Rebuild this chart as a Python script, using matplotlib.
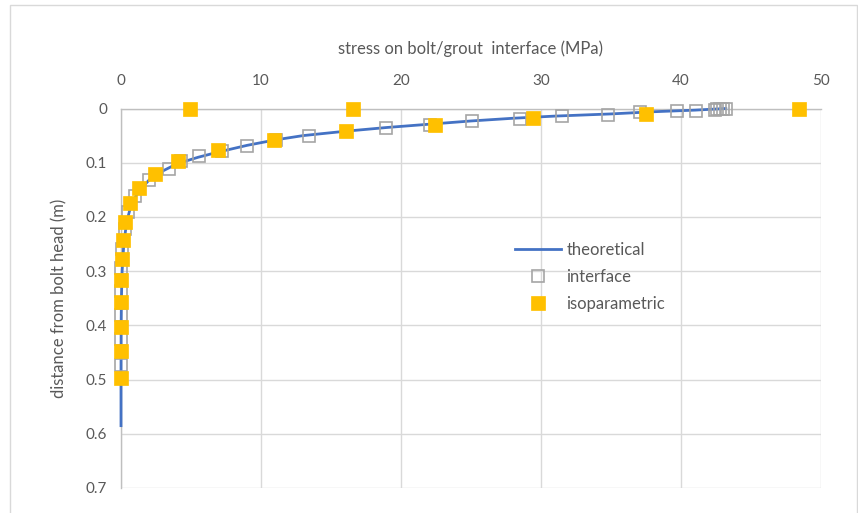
import matplotlib
matplotlib.use("Agg")
import matplotlib.pyplot as plt
from matplotlib.patches import Rectangle

plt.rcParams['font.family'] = ['Lato', 'DejaVu Sans']

# theoretical curve (stress MPa, distance m)
theo_x = [43.2, 41.0, 38.0, 35.0, 31.0, 28.0, 25.0, 22.0, 19.0, 16.0, 13.0, 11.0,
          9.0, 7.0, 5.5, 4.0, 3.0, 2.0, 1.2, 0.7, 0.4, 0.2, 0.08, 0.03, 0.01, 0.0, 0.0]
theo_y = [0.0, 0.003, 0.006, 0.010, 0.014, 0.018, 0.023, 0.029, 0.035, 0.042, 0.050, 0.058,
          0.068, 0.080, 0.090, 0.102, 0.115, 0.132, 0.155, 0.180, 0.210, 0.250, 0.300, 0.350,
          0.400, 0.500, 0.585]

# interface results
inter_x = [43.2, 43.0, 42.8, 42.6, 42.4, 41.1, 39.7, 37.1, 34.8, 31.5, 28.5, 25.1, 22.1,
           18.9, 13.4, 11.1, 9.0, 7.2, 5.6, 4.3, 3.4, 2.0, 1.0, 0.5, 0.3, 0.1, 0.02, 0.01,
           0.0, 0.0, 0.0]
inter_y = [0.0, 0.0005, 0.001, 0.0015, 0.002, 0.004, 0.005, 0.007, 0.012, 0.014, 0.020,
           0.023, 0.031, 0.036, 0.050, 0.059, 0.070, 0.079, 0.088, 0.097, 0.112, 0.131,
           0.162, 0.190, 0.222, 0.260, 0.295, 0.337, 0.381, 0.426, 0.473]

# isoparametric results
iso_x = [4.9, 16.6, 48.4, 37.5, 29.4, 22.4, 16.1, 10.9, 6.9, 4.1, 2.4, 1.3, 0.65, 0.3,
         0.12, 0.05, 0.02, 0.01, 0.0, 0.0, 0.0]
iso_y = [0.0, 0.0, 0.0, 0.010, 0.017, 0.030, 0.042, 0.059, 0.076, 0.097, 0.120, 0.147,
         0.174, 0.209, 0.242, 0.277, 0.317, 0.357, 0.403, 0.447, 0.497]

x_ticks = [0, 10, 20, 30, 40, 50]
y_ticks = [0, 0.1, 0.2, 0.3, 0.4, 0.5, 0.6, 0.7]

W, H = 858, 513
fig = plt.figure(figsize=(W / 100, H / 100), dpi=100)
fig.patch.set_facecolor('white')
fig.patches.append(Rectangle((10 / W, -0.01), (857 - 10) / W, 1 - 5 / H + 0.01,
                             transform=fig.transFigure, fill=False,
                             edgecolor='#d9d9d9', linewidth=1.0))

left, right = 121 / W, 821 / W
top, bottom = 1 - 108.5 / H, 1 - 488 / H
ax = fig.add_axes([left, bottom, right - left, top - bottom])

ax.set_xlim(0, 50)
ax.set_ylim(0.7, 0)
ax.xaxis.tick_top()
ax.xaxis.set_label_position('top')
ax.set_xticks(x_ticks)
ax.set_yticks(y_ticks)
ax.set_xticklabels([str(v) for v in x_ticks])
ax.set_yticklabels(['0', '0.1', '0.2', '0.3', '0.4', '0.5', '0.6', '0.7'])
ax.tick_params(length=0, labelsize=11, colors='#595959', pad=10)
ax.tick_params(axis='x', pad=15)

ax.grid(True, color='#d9d9d9', linewidth=1.0)
ax.set_axisbelow(True)
for s in ['right', 'bottom']:
    ax.spines[s].set_visible(False)
for s in ['left', 'top']:
    ax.spines[s].set_color('#bfbfbf')
    ax.spines[s].set_linewidth(1.0)

ax.plot(theo_x, theo_y, color='#4472c4', linewidth=2.0, label='theoretical', zorder=3,
        clip_on=False)
ax.plot(inter_x, inter_y, linestyle='none', marker='s', markersize=8,
        markerfacecolor='none', markeredgecolor='#a5a5a5', markeredgewidth=1.2,
        label='interface', zorder=4, clip_on=False)
ax.plot(iso_x, iso_y, linestyle='none', marker='s', markersize=9.5,
        markerfacecolor='#ffc000', markeredgecolor='#ffc000', markeredgewidth=0.5,
        label='isoparametric', zorder=5, clip_on=False)

ax.set_xlabel('stress on bolt/grout  interface (MPa)', fontsize=12, color='#595959',
              labelpad=14)
ax.set_ylabel('distance from bolt head (m)', fontsize=12, color='#595959', labelpad=13)

leg = ax.legend(loc='upper left', bbox_to_anchor=(0.553, 0.665), frameon=False,
                fontsize=12, labelcolor='#595959', handlelength=2.8,
                handletextpad=0.3, labelspacing=0.65, borderaxespad=0)

fig.savefig('out.png', dpi=100)
